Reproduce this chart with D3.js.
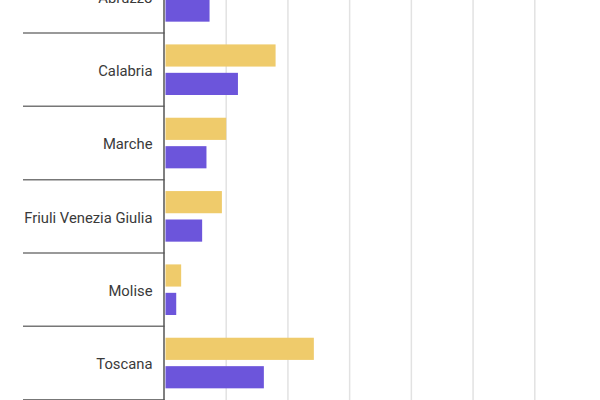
<!DOCTYPE html>
<html>
<head>
<meta charset="utf-8">
<script src="https://cdn.jsdelivr.net/npm/d3@7"></script>
<style>
  html, body { margin: 0; padding: 0; background: #fff; }
  svg { display: block; }
</style>
</head>
<body>
<div id="chart"></div>
<script>
const WIDTH = 600;
const HEIGHT = 400;
const LABEL_RIGHT = 152.5;
const TICK_LEFT = 23;

// regions shown (the top of the chart is cut off in the picture)
const regions = ["Abruzzo", "Calabria", "Marche", "Friuli Venezia Giulia", "Molise", "Toscana"];
const seriesNames = ["a", "b"];
const seriesA = [1.2, 1.8, 1.0, 0.93, 0.27, 2.42];
const seriesB = [0.73, 1.19, 0.68, 0.61, 0.19, 1.61];
const gridTicks = [1, 2, 3, 4, 5, 6];
const colors = ["#efcb6b", "#6c55db"];

const rows = regions.map((r, i) => ({ region: r, values: [seriesA[i], seriesB[i]] }));

const svg = d3.select("#chart")
  .append("svg")
  .attr("width", WIDTH)
  .attr("height", HEIGHT)
  .attr("viewBox", [0, 0, WIDTH, HEIGHT])
  .style("font-family", "Roboto, sans-serif");

const x = d3.scaleLinear().domain([0, 7]).range([164.5, 596.5]);

const y = d3.scaleBand()
  .domain(regions)
  .range([-40.3, 399.7]);

const inner = d3.scaleBand()
  .domain(seriesNames)
  .range([0, y.bandwidth()])
  .paddingInner(0.22)
  .paddingOuter(0.4);

// grid lines
svg.append("g")
  .selectAll("line")
  .data(gridTicks)
  .join("line")
  .attr("x1", d => x(d))
  .attr("x2", d => x(d))
  .attr("y1", 0)
  .attr("y2", HEIGHT)
  .attr("stroke", "#e2e2e2")
  .attr("stroke-width", 1.5);

// bars
const groups = svg.append("g")
  .selectAll("g")
  .data(rows)
  .join("g")
  .attr("transform", d => `translate(0,${y(d.region)})`);

groups.selectAll("rect")
  .data(d => d.values.map((v, i) => ({ key: seriesNames[i], value: v, i })))
  .join("rect")
  .attr("x", x(0) + 1)
  .attr("y", d => inner(d.key))
  .attr("width", d => x(d.value) - x(0) - 1)
  .attr("height", inner.bandwidth())
  .attr("fill", d => colors[d.i]);

// category boundaries
const bounds = regions.map(r => y(r)).concat([y.range()[1]]);
svg.append("g")
  .selectAll("line")
  .data(bounds)
  .join("line")
  .attr("x1", TICK_LEFT)
  .attr("x2", x(0))
  .attr("y1", d => d)
  .attr("y2", d => d)
  .attr("stroke", "#777")
  .attr("stroke-width", 1.5);

// axis line
svg.append("line")
  .attr("x1", x(0) - 0.5)
  .attr("x2", x(0) - 0.5)
  .attr("y1", 0)
  .attr("y2", HEIGHT)
  .attr("stroke", "#555")
  .attr("stroke-width", 1.5);

// labels
svg.append("g")
  .selectAll("text")
  .data(regions)
  .join("text")
  .attr("x", LABEL_RIGHT)
  .attr("y", d => y(d) + y.bandwidth() / 2)
  .attr("dy", "0.42em")
  .attr("text-anchor", "end")
  .attr("font-size", 14.8)
  .attr("fill", "#3a3a3a")
  .text(d => d);
</script>
</body>
</html>
